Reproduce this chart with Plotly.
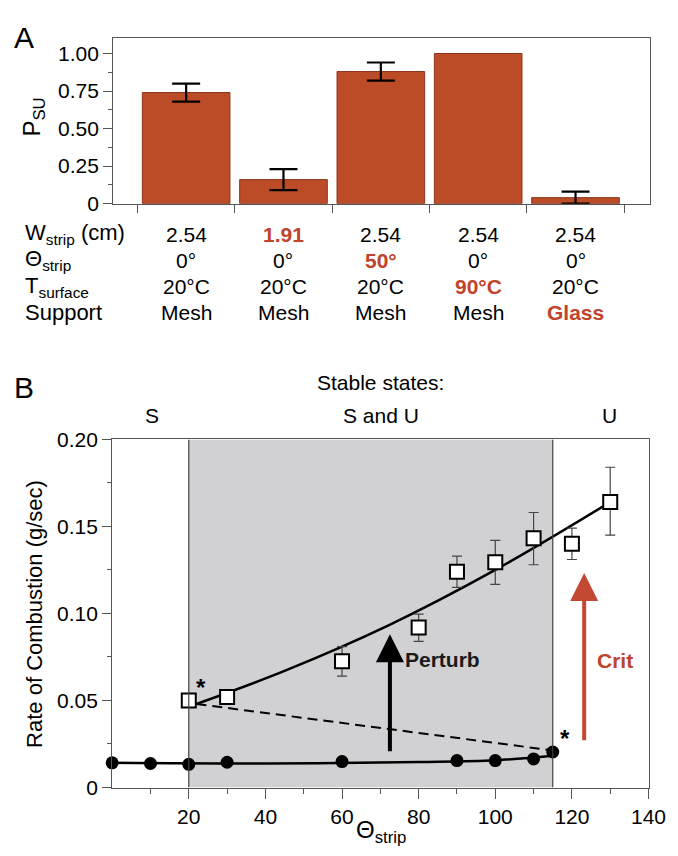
import plotly.graph_objects as go

# ---------------- Panel A data ----------------
psu = [0.74, 0.16, 0.88, 1.00, 0.04]
psu_err = [0.06, 0.07, 0.06, None, 0.04]
w_strip = ["2.54", "1.91", "2.54", "2.54", "2.54"]
theta_strip = ["0°", "0°", "50°", "0°", "0°"]
t_surface = ["20°C", "20°C", "20°C", "90°C", "20°C"]
support = ["Mesh", "Mesh", "Mesh", "Mesh", "Glass"]
# which table row is highlighted (changed parameter) for each bar
changed_row = [None, 0, 1, 2, 3]
row_labels = ["W<sub>strip</sub> (cm)", "Θ<sub>strip</sub>", "T<sub>surface</sub>", "Support"]
a_yticks = [0, 0.25, 0.5, 0.75, 1.0]
a_yticktext = ["0", "0.25", "0.50", "0.75", "1.00"]

# ---------------- Panel B data ----------------
u_theta = [20, 30, 60, 80, 90, 100, 110, 120, 130]
u_rate = [0.050, 0.052, 0.0725, 0.092, 0.124, 0.1294, 0.1432, 0.140, 0.164]
u_err_plus = [0, 0, 0.0085, 0.0076, 0.009, 0.0126, 0.0148, 0.009, 0.020]
u_err_minus = [0, 0, 0.0085, 0.008, 0.009, 0.0127, 0.0152, 0.009, 0.019]

s_theta = [0, 10, 20, 30, 60, 90, 100, 110, 115]
s_rate = [0.0142, 0.0138, 0.0133, 0.0145, 0.0149, 0.0155, 0.0155, 0.0164, 0.0204]

u_fit_x = [22, 45, 72, 100, 130]
u_fit_y = [0.048, 0.067, 0.093, 0.125, 0.164]
s_fit_x = [0, 40, 80, 100, 115]
s_fit_y = [0.0142, 0.0138, 0.0147, 0.0157, 0.0183]
unstable_x = [22, 114]
unstable_y = [0.048, 0.0216]

bistable_region = [20, 115]
perturb_arrow = dict(x=72.5, y0=0.020, y1=0.088)
crit_arrow = dict(x=123.2, y0=0.0263, y1=0.1233)
b_xticks = [20, 40, 60, 80, 100, 120, 140]
b_xminor = [10, 30, 50, 70, 90, 110, 130]
b_yticks = [0, 0.05, 0.10, 0.15, 0.20]
b_yticktext = ["0", "0.05", "0.10", "0.15", "0.20"]
b_yminor = [0.025, 0.075, 0.125, 0.175]

# ---------------- style ----------------
FONT = "Liberation Sans, Arial, Helvetica, sans-serif"
BAR = "#BC4B27"
RED = "#C0432B"
AXC = "#555555"
W, H = 678, 856
TS = 21  # tick / table text size


def px(x):
    return x / W


def py(y):
    return 1 - y / H


def note(text, x, y, size, color="black", xref="paper", yref="paper",
         xanchor="center", yanchor="middle", angle=0):
    return dict(text=text, x=x, y=y, xref=xref, yref=yref, xanchor=xanchor,
                yanchor=yanchor, textangle=angle, showarrow=False,
                font=dict(size=size, color=color, family=FONT))


fig = go.Figure()

# Panel A bars
fig.add_trace(go.Bar(
    x=list(range(len(psu))), y=psu, width=0.9,
    marker=dict(color=BAR, line=dict(color="#8A3518", width=1)),
    xaxis="x", yaxis="y", showlegend=False, hoverinfo="skip"))
err_idx = [i for i, e in enumerate(psu_err) if e is not None]
fig.add_trace(go.Scatter(
    x=err_idx, y=[psu[i] for i in err_idx], mode="markers",
    marker=dict(size=1, color="rgba(0,0,0,0)"),
    error_y=dict(type="data", array=[psu_err[i] for i in err_idx], symmetric=True,
                 color="black", thickness=2.2, width=14),
    xaxis="x", yaxis="y", showlegend=False, hoverinfo="skip"))

# Panel B
fig.add_trace(go.Scatter(x=s_fit_x, y=s_fit_y, mode="lines",
                         line=dict(color="black", width=2.5, shape="spline"),
                         xaxis="x2", yaxis="y2", showlegend=False, hoverinfo="skip"))
fig.add_trace(go.Scatter(x=u_fit_x, y=u_fit_y, mode="lines",
                         line=dict(color="black", width=2.5, shape="spline"),
                         xaxis="x2", yaxis="y2", showlegend=False, hoverinfo="skip"))
fig.add_trace(go.Scatter(x=unstable_x, y=unstable_y, mode="lines",
                         line=dict(color="black", width=2, dash="10px,6px"),
                         xaxis="x2", yaxis="y2", showlegend=False, hoverinfo="skip"))
fig.add_trace(go.Scatter(x=s_theta, y=s_rate, mode="markers",
                         marker=dict(color="black", size=13, symbol="circle"),
                         cliponaxis=False,
                         xaxis="x2", yaxis="y2", showlegend=False, hoverinfo="skip"))
fig.add_trace(go.Scatter(x=u_theta, y=u_rate, mode="markers",
                         marker=dict(color="white", size=14, symbol="square",
                                     line=dict(color="black", width=2)),
                         error_y=dict(type="data", array=u_err_plus, arrayminus=u_err_minus,
                                      symmetric=False, color="#444444", thickness=1.2, width=5),
                         cliponaxis=False,
                         xaxis="x2", yaxis="y2", showlegend=False, hoverinfo="skip"))

shapes = [
    dict(type="rect", xref="x2", yref="y2", x0=bistable_region[0], x1=bistable_region[1],
         y0=0, y1=0.2, fillcolor="#D1D1D4", line=dict(width=0), layer="below"),
]
for bx in bistable_region:
    shapes.append(dict(type="line", xref="x2", yref="y2", x0=bx, x1=bx, y0=0, y1=0.2,
                       line=dict(color="#444444", width=1.2), layer="above"))

annotations = []
annotations.append(note("A", px(4), py(18), 30, xanchor="left"))
annotations.append(note("B", px(4), py(378), 30, xanchor="left"))
annotations.append(note("P<sub>SU</sub>", px(26), py(100), 24, angle=-90))

rows = [w_strip, theta_strip, t_surface, support]
row_y = [220, 247, 274, 301]
for r, (lab, vals) in enumerate(zip(row_labels, rows)):
    annotations.append(note(lab, px(15), py(row_y[r]), 22, xanchor="left"))
    for i, v in enumerate(vals):
        hl = changed_row[i] == r
        annotations.append(note(("<b>%s</b>" % v) if hl else v, i, py(row_y[r]), TS,
                                color=RED if hl else "black", xref="x"))

annotations.append(note("Stable states:", px(383), py(373), 21))
for t, xx in [("S", 148), ("S and U", 383), ("U", 618)]:
    annotations.append(note(t, px(xx), py(406), 21))

annotations.append(note("Rate of Combustion (g/sec)", px(27), py(610), 22, angle=-90))
annotations.append(note("Θ<sub>strip</sub>", px(383), py(834), 24))

annotations.append(dict(x=perturb_arrow["x"], y=perturb_arrow["y1"], ax=perturb_arrow["x"],
                        ay=perturb_arrow["y0"], xref="x2", yref="y2", axref="x2", ayref="y2",
                        text="", showarrow=True, arrowhead=2, arrowsize=1.4, arrowwidth=4,
                        arrowcolor="black"))
annotations.append(dict(x=crit_arrow["x"], y=crit_arrow["y1"], ax=crit_arrow["x"],
                        ay=crit_arrow["y0"], xref="x2", yref="y2", axref="x2", ayref="y2",
                        text="", showarrow=True, arrowhead=2, arrowsize=1.4, arrowwidth=4,
                        arrowcolor="#C24A32"))
annotations.append(note("<b>Perturb</b>", 76, 0.0737, 21, color="#1a1a1a",
                        xref="x2", yref="y2", xanchor="left"))
annotations.append(note("<b>Crit</b>", 131.2, 0.073, 21, color=RED, xref="x2", yref="y2"))
annotations.append(note("<b>*</b>", 23.2, 0.0575, 24, xref="x2", yref="y2"))
annotations.append(note("<b>*</b>", 118.3, 0.028, 24, xref="x2", yref="y2"))

axis_common = dict(showline=True, linecolor=AXC, linewidth=1.2, mirror=True,
                   showgrid=False, zeroline=False, ticks="outside", tickcolor=AXC,
                   tickfont=dict(size=TS, color="black", family=FONT))

fig.update_layout(
    width=W, height=H, margin=dict(l=0, r=0, t=0, b=0),
    paper_bgcolor="white", plot_bgcolor="white",
    font=dict(family=FONT, color="black"),
    bargap=0.1,
    xaxis=dict(domain=[px(108), px(659)], anchor="y", range=[-0.75, 4.76],
               tickmode="array", tickvals=[-0.5, 0.5, 1.5, 2.5, 3.5, 4.5],
               ticktext=[""] * 6, ticklen=8, **axis_common),
    yaxis=dict(domain=[py(188.7), py(19)], anchor="x", range=[0, 1.1],
               tickmode="array", tickvals=a_yticks, ticktext=a_yticktext, ticklen=9,
               minor=dict(tickvals=[0.125, 0.375, 0.625, 0.875], ticks="outside",
                          ticklen=4, tickcolor=AXC),
               **axis_common),
    xaxis2=dict(domain=[px(107), px(658)], anchor="y2", range=[0, 140],
                tickmode="array", tickvals=b_xticks, ticklen=10,
                minor=dict(tickvals=b_xminor, ticks="outside", ticklen=5, tickcolor=AXC),
                **axis_common),
    yaxis2=dict(domain=[py(788.7), py(431)], anchor="x2", range=[0, 0.2],
                tickmode="array", tickvals=b_yticks, ticktext=b_yticktext, ticklen=9,
                minor=dict(tickvals=b_yminor, ticks="outside", ticklen=4, tickcolor=AXC),
                **axis_common),
    shapes=shapes, annotations=annotations,
)

fig.write_html("out.html")
